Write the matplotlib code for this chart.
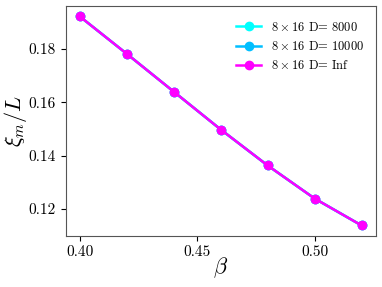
import matplotlib
matplotlib.use('Agg')
import numpy as np
import matplotlib.pyplot as plt

plt.rcParams['font.family'] = 'serif'
plt.rcParams['font.serif'] = ['cmr10']
plt.rcParams['mathtext.fontset'] = 'cm'
plt.rcParams['axes.formatter.use_mathtext'] = True

beta = [0.40, 0.42, 0.44, 0.46, 0.48, 0.50, 0.52]
xi_8000 = [0.1922, 0.1782, 0.1640, 0.1498, 0.1363, 0.1239, 0.1138]
xi_10000 = [0.1922, 0.1782, 0.1640, 0.1498, 0.1363, 0.1239, 0.1138]
xi_inf = [0.1922, 0.1782, 0.1640, 0.1498, 0.1363, 0.1239, 0.1138]

labels = [r'$8\times16$ D= 8000', r'$8\times16$ D= 10000', r'$8\times16$ D= Inf']
colors = ['cyan', 'deepskyblue', 'magenta']

fig = plt.figure(figsize=(3.82, 2.87), dpi=100)
ax = fig.add_axes([0.172, 0.178, 0.8115, 0.801])
for ys, c, lab in zip([xi_8000, xi_10000, xi_inf], colors, labels):
    ax.plot(beta, ys, '-o', color=c, label=lab, lw=1.8, ms=6)

ax.set_xticks([0.40, 0.45, 0.50])
ax.set_xticklabels(['0.40', '0.45', '0.50'])
ax.set_yticks([0.12, 0.14, 0.16, 0.18])
ax.set_yticklabels(['0.12', '0.14', '0.16', '0.18'])
ax.tick_params(labelsize=11)
ax.set_xlabel(r'$\beta$', fontsize=16)
ax.set_ylabel(r'$\xi_m/L$', fontsize=16)
ax.yaxis.set_label_coords(-0.118, 0.5)
ax.xaxis.set_label_coords(0.5, -0.085)
for s in ax.spines.values():
    s.set_color('#555555')
ax.legend(loc='upper right', fontsize=9, frameon=False, bbox_to_anchor=(1.0, 0.985))
fig.savefig('out.png', dpi=100)
